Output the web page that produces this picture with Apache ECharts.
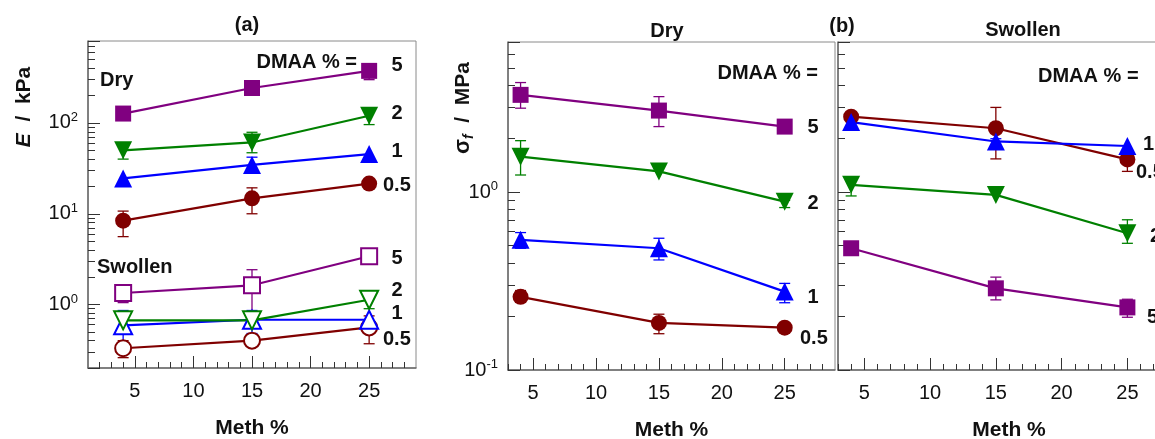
<!DOCTYPE html>
<html>
<head>
<meta charset="utf-8">
<script src="https://cdn.jsdelivr.net/npm/echarts@6/dist/echarts.min.js"></script>
<style>
  html, body { margin: 0; padding: 0; background: #fff; }
  #chart { width: 1155px; height: 439px; }
</style>
</head>
<body>
<div id="chart"></div>
<script>
// Methacrylate content of each sample (x positions)
const methPct = [4, 15, 25];

// (a) Young's modulus E in kPa, dry gels
const modDry05 = [8.4, 14.8, 21.5];
const modDry1 = [24.5, 34.5, 45.5];
const modDry2 = [50, 61, 120];
const modDry5 = [127, 243, 375];
// (a) Young's modulus E in kPa, swollen gels
const modSw05 = [0.33, 0.40, 0.56];
const modSw1 = [0.59, 0.68, 0.68];
const modSw2 = [0.67, 0.67, 1.13];
const modSw5 = [1.34, 1.63, 3.4];

// (a) error bars as [low, high]; null where no bar is drawn
const modDry05Err = [[5.6, 10.7], [10, 19.3], null];
const modDry1Err = [null, [28, 42], null];
const modDry2Err = [[40, 60], [47, 79], [96, 146]];
const modDry5Err = [null, null, [300, 420]];
const modSw05Err = [[0.26, 0.40], null, [0.37, 0.75]];
const modSw1Err = [[0.33, 0.86], [0.48, 0.86], null];
const modSw2Err = [null, [0.55, 0.80], [0.90, 1.40]];
const modSw5Err = [[1.05, 1.55], [0.80, 2.42], null];

// (b) fracture stress in MPa, dry gels
const strDry05 = [0.258, 0.184, 0.173];
const strDry1 = [0.54, 0.484, 0.276];
const strDry2 = [1.585, 1.31, 0.885];
const strDry5 = [3.53, 2.88, 2.34];
// (b) fracture stress in MPa, swollen gels
const strSw05 = [2.66, 2.29, 1.53];
const strSw1 = [2.48, 1.93, 1.82];
const strSw2 = [1.10, 0.966, 0.588];
const strSw5 = [0.484, 0.288, 0.225];

// (b) error bars as [low, high]
const strDry05Err = [[0.24, 0.28], [0.16, 0.206], null];
const strDry1Err = [[0.484, 0.593], [0.416, 0.551], [0.239, 0.307]];
const strDry2Err = [[1.25, 1.95], null, [0.82, 0.90]];
const strDry5Err = [[2.97, 4.14], [2.34, 3.45], null];
const strSw05Err = [null, [1.54, 3.0], [1.31, 1.60]];
const strSw1Err = [null, [1.75, 2.0], null];
const strSw2Err = [[0.953, 1.2], null, [0.516, 0.70]];
const strSw5Err = [null, [0.248, 0.333], [0.198, 0.25]];

// Tick values
const methMajorTicks = [5, 10, 15, 20, 25];
const methMinorTicks = [2, 3, 4, 6, 7, 8, 9, 11, 12, 13, 14, 16, 17, 18, 19, 21, 22, 23, 24, 26, 27, 28];
const modMinorTicks = [0.3, 0.4, 0.5, 0.6, 0.7, 0.8, 0.9, 2, 3, 4, 5, 6, 7, 8, 9, 20, 30, 40, 50, 60, 70, 80, 90, 200, 300, 400, 500, 600, 700, 800];
const strMinorTicks = [0.2, 0.3, 0.4, 0.5, 0.6, 0.7, 0.8, 0.9, 2, 3, 4, 5, 6, 7];

const FONT = '"Liberation Sans", Arial, sans-serif';
const AXIS_GREY = '#6a6a6a';
const FRAME_GREY = '#8a8a8a';
const TICK_COL = '#333';

const COLORS = { '0.5': '#800000', '1': '#0000ff', '2': '#008000', '5': '#800080' };
const MARKERS = {
  '0.5': { symbol: 'circle', size: 16, rotate: 0 },
  '1': { symbol: 'triangle', size: 18, rotate: 0 },
  '2': { symbol: 'triangle', size: 18, rotate: 180 },
  '5': { symbol: 'rect', size: 16, rotate: 0 }
};

// three plotting boxes: (a), (b) dry, (b) swollen (runs past the right edge)
const gridBase = { show: true, borderColor: FRAME_GREY, borderWidth: 1, containLabel: false, outerBoundsMode: 'none' };
const grids = [
  Object.assign({ left: 88, top: 41, width: 328, height: 327 }, gridBase),
  Object.assign({ left: 508, top: 42, width: 327, height: 328 }, gridBase),
  Object.assign({ left: 838, top: 42, width: 342, height: 328 }, gridBase)
];

const xRanges = [[1, 29], [3, 29], [3, 29]];
const yRanges = [[0.2, 800], [0.1, 7], [0.1, 7]];
const yMinor = [modMinorTicks, strMinorTicks, strMinorTicks];

function decadeLabel(v) {
  const e = Math.log10(v);
  const r = Math.round(e);
  if (Math.abs(e - r) > 1e-6) return '';
  return '{b|10}{s|' + r + '}';
}

const xAxes = [];
const yAxes = [];
grids.forEach((g, k) => {
  xAxes.push({
    gridIndex: k, type: 'value', position: 'bottom',
    min: xRanges[k][0], max: xRanges[k][1],
    name: 'Meth %', nameLocation: 'middle', nameGap: 50,
    nameTextStyle: { fontFamily: FONT, fontSize: 21, fontWeight: 'bold', color: '#111' },
    axisLine: { show: true, lineStyle: { color: AXIS_GREY, width: 1.5 } },
    axisTick: { show: true, inside: true, length: 12, customValues: methMajorTicks, lineStyle: { color: TICK_COL, width: 1 } },
    axisLabel: { show: true, customValues: methMajorTicks, margin: 13, fontFamily: FONT, fontSize: 20, color: '#111' },
    splitLine: { show: false }
  });
  xAxes.push({
    gridIndex: k, type: 'value', position: 'bottom',
    min: xRanges[k][0], max: xRanges[k][1],
    axisLine: { show: false },
    axisTick: { show: true, inside: true, length: 6, customValues: methMinorTicks, lineStyle: { color: TICK_COL, width: 1 } },
    axisLabel: { show: false },
    splitLine: { show: false }
  });
  yAxes.push({
    gridIndex: k, type: 'log', logBase: 10, position: 'left',
    min: yRanges[k][0], max: yRanges[k][1],
    axisLine: { show: true, lineStyle: { color: AXIS_GREY, width: 1.5 } },
    axisTick: { show: true, inside: true, length: 12, lineStyle: { color: TICK_COL, width: 1 } },
    axisLabel: {
      show: k !== 2, margin: 10, formatter: decadeLabel, color: '#111',
      rich: {
        b: { fontFamily: FONT, fontSize: 20, color: '#111', lineHeight: 24 },
        s: { fontFamily: FONT, fontSize: 13, color: '#111', verticalAlign: 'top', lineHeight: 24 }
      }
    },
    splitLine: { show: false }
  });
  yAxes.push({
    gridIndex: k, type: 'log', logBase: 10, position: 'left',
    min: yRanges[k][0], max: yRanges[k][1],
    axisLine: { show: false },
    axisTick: { show: true, inside: true, length: 7, customValues: yMinor[k], lineStyle: { color: TICK_COL, width: 1 } },
    axisLabel: { show: false },
    splitLine: { show: false }
  });
});

function lineSeries(k, level, values, open) {
  const m = MARKERS[level];
  const c = COLORS[level];
  return {
    type: 'line', xAxisIndex: 2 * k, yAxisIndex: 2 * k, z: 3,
    data: methPct.map((x, i) => [x, values[i]]),
    symbol: m.symbol, symbolSize: m.size, symbolRotate: m.rotate,
    showAllSymbol: true, silent: true,
    lineStyle: { color: c, width: 2.2 },
    itemStyle: open ? { color: '#fff', borderColor: c, borderWidth: 2 } : { color: c, borderWidth: 0 }
  };
}

function errSeries(k, level, errs) {
  const c = COLORS[level];
  const data = [];
  errs.forEach((e, i) => { if (e) data.push([methPct[i], e[0], e[1]]); });
  return {
    type: 'custom', xAxisIndex: 2 * k, yAxisIndex: 2 * k, z: 2, silent: true,
    encode: { x: 0, y: [1, 2] },
    data: data,
    renderItem: function (params, api) {
      const x = api.value(0);
      const lo = api.coord([x, api.value(1)]);
      const hi = api.coord([x, api.value(2)]);
      const w = 5.5;
      const style = { stroke: c, lineWidth: 1.3, fill: null };
      return {
        type: 'group',
        children: [
          { type: 'line', shape: { x1: lo[0], y1: lo[1], x2: hi[0], y2: hi[1] }, style: style },
          { type: 'line', shape: { x1: lo[0] - w, y1: lo[1], x2: lo[0] + w, y2: lo[1] }, style: style },
          { type: 'line', shape: { x1: hi[0] - w, y1: hi[1], x2: hi[0] + w, y2: hi[1] }, style: style }
        ]
      };
    }
  };
}

const panels = [
  // grid, level, values, errors, open marker
  [0, '0.5', modDry05, modDry05Err, false],
  [0, '1', modDry1, modDry1Err, false],
  [0, '2', modDry2, modDry2Err, false],
  [0, '5', modDry5, modDry5Err, false],
  [0, '0.5', modSw05, modSw05Err, true],
  [0, '1', modSw1, modSw1Err, true],
  [0, '2', modSw2, modSw2Err, true],
  [0, '5', modSw5, modSw5Err, true],
  [1, '0.5', strDry05, strDry05Err, false],
  [1, '1', strDry1, strDry1Err, false],
  [1, '2', strDry2, strDry2Err, false],
  [1, '5', strDry5, strDry5Err, false],
  [2, '0.5', strSw05, strSw05Err, false],
  [2, '1', strSw1, strSw1Err, false],
  [2, '2', strSw2, strSw2Err, false],
  [2, '5', strSw5, strSw5Err, false]
];

const series = [];
panels.forEach(p => {
  series.push(errSeries(p[0], p[1], p[3]));
  series.push(lineSeries(p[0], p[1], p[2], p[4]));
});

function txt(x, y, text, size, align, extra) {
  return Object.assign({
    type: 'text', x: x, y: y, silent: true,
    style: { text: text, font: 'bold ' + size + 'px ' + FONT, fill: '#111', align: align || 'center', verticalAlign: 'middle' }
  }, extra || {});
}

const graphics = [
  // panel (a)
  txt(247, 25, '(a)', 20),
  txt(357, 62, 'DMAA % =', 20, 'right'),
  txt(100, 80, 'Dry', 20, 'left'),
  txt(397, 65, '5', 20), txt(397, 113, '2', 20), txt(397, 151, '1', 20), txt(383, 185, '0.5', 20, 'left'),
  txt(97, 267, 'Swollen', 20, 'left'),
  txt(397, 258, '5', 20), txt(397, 290, '2', 20), txt(397, 313, '1', 20), txt(383, 339, '0.5', 20, 'left'),
  {
    type: 'text', x: 24, y: 107, rotation: Math.PI / 2, silent: true,
    style: {
      text: '{i|E}  /  kPa', font: 'bold 21px ' + FONT, fill: '#111', align: 'center', verticalAlign: 'middle',
      rich: { i: { fontStyle: 'italic', fontWeight: 'bold', fontSize: 21, fontFamily: FONT, fill: '#111' } }
    }
  },
  // panel (b)
  txt(667, 31, 'Dry', 20),
  txt(842, 26, '(b)', 20),
  txt(1023, 30, 'Swollen', 20),
  txt(818, 73, 'DMAA % =', 20, 'right'),
  txt(813, 127, '5', 20), txt(813, 203, '2', 20), txt(813, 297, '1', 20), txt(800, 338, '0.5', 20, 'left'),
  txt(1038, 76, 'DMAA % =', 20, 'left'),
  txt(1143, 144, '1', 20, 'left'), txt(1136, 172, '0.5', 20, 'left'),
  txt(1150, 236, '2', 20, 'left'), txt(1147, 317, '5', 20, 'left'),
  {
    type: 'text', x: 463, y: 108, rotation: Math.PI / 2, silent: true,
    style: {
      text: '{s|σ}{f|f}  /  MPa', font: 'bold 21px ' + FONT, fill: '#111', align: 'center', verticalAlign: 'middle',
      rich: {
        s: { fontWeight: 'bold', fontSize: 22, fontFamily: FONT, fill: '#111', lineHeight: 26 },
        f: { fontStyle: 'italic', fontWeight: 'bold', fontSize: 14, fontFamily: FONT, fill: '#111', verticalAlign: 'bottom', lineHeight: 26 }
      }
    }
  }
];

const chart = echarts.init(document.getElementById('chart'), null, { renderer: 'canvas' });
chart.setOption({
  animation: false,
  backgroundColor: '#fff',
  textStyle: { fontFamily: FONT },
  grid: grids,
  xAxis: xAxes,
  yAxis: yAxes,
  series: series,
  graphic: graphics
});
</script>
</body>
</html>
